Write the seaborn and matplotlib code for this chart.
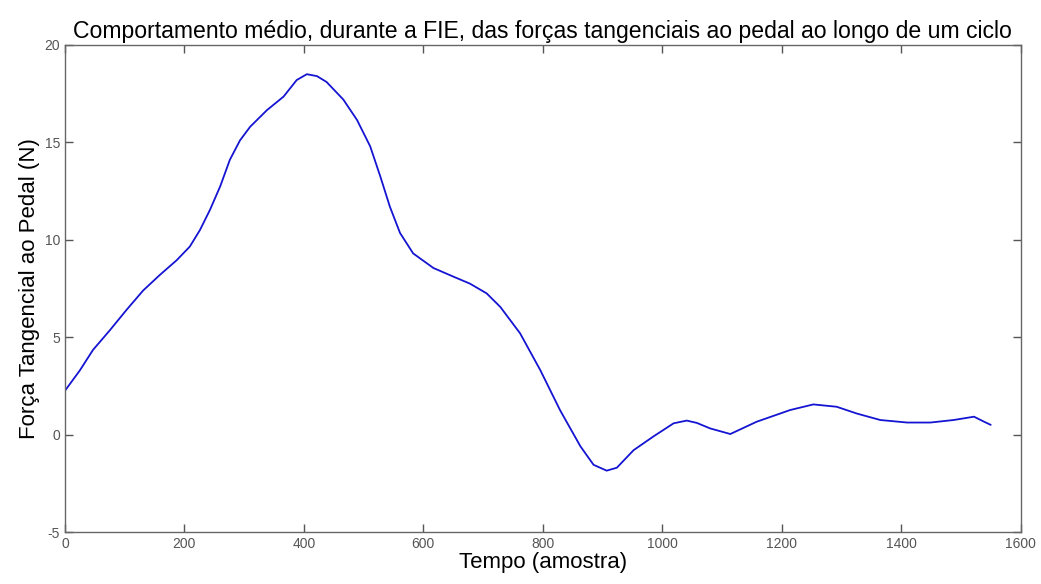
import numpy as np
import pandas as pd
import matplotlib
matplotlib.use("Agg")
import matplotlib.pyplot as plt
import seaborn as sns

# values
amostra = [0, 25, 47, 75, 103, 131, 159, 187, 209, 226, 243, 260, 276, 293,
           310, 338, 366, 388, 405, 422, 438, 466, 489, 511, 528, 544, 561,
           583, 617, 651, 678, 706, 729, 762, 796, 829, 863, 885, 907, 924,
           952, 985, 1019, 1041, 1058, 1080, 1114, 1158, 1214, 1253, 1292,
           1326, 1365, 1410, 1449, 1488, 1522, 1539, 1550]
forca = [2.25, 3.3, 4.35, 5.35, 6.4, 7.4, 8.2, 8.95, 9.65, 10.5, 11.55,
         12.75, 14.1, 15.1, 15.8, 16.65, 17.35, 18.2, 18.5, 18.4, 18.1,
         17.2, 16.15, 14.8, 13.25, 11.7, 10.35, 9.3, 8.55, 8.1, 7.75, 7.25,
         6.55, 5.2, 3.3, 1.25, -0.6, -1.55, -1.85, -1.7, -0.8, -0.1, 0.58,
         0.72, 0.6, 0.32, 0.03, 0.66, 1.26, 1.55, 1.43, 1.08, 0.75, 0.62,
         0.62, 0.75, 0.92, 0.66, 0.5]
xticks = [0, 200, 400, 600, 800, 1000, 1200, 1400, 1600]
yticks = [-5, 0, 5, 10, 15, 20]

df = pd.DataFrame({"amostra": amostra, "forca": forca})

sns.set_style("white")
plt.rcParams["font.family"] = ["Liberation Sans", "DejaVu Sans"]
plt.rcParams["axes.unicode_minus"] = False

fig = plt.figure(figsize=(10.41, 5.84), dpi=100)
ax = fig.add_axes([0.0624, 0.089, 0.918, 0.834])

sns.lineplot(data=df, x="amostra", y="forca", ax=ax, color="#1414d2",
             linewidth=1.3)

ax.set_xlim(0, 1600)
ax.set_ylim(-5, 20)
ax.set_xticks(xticks)
ax.set_yticks(yticks)
ax.tick_params(direction="in", length=6, width=1, color="#555555",
               labelcolor="#555555", labelsize=10, top=True, right=True,
               bottom=True, left=True)
for s in ax.spines.values():
    s.set_visible(True)
    s.set_color("#666666")
    s.set_linewidth(1)

ax.set_title("Comportamento médio, durante a FIE, das forças tangenciais ao pedal ao longo de um ciclo",
             fontsize=16.6, pad=5, color="black")
ax.set_xlabel("Tempo (amostra)", fontsize=16, labelpad=1, color="black")
ax.set_ylabel("Força Tangencial ao Pedal (N)", fontsize=16, labelpad=3,
              color="black")

fig.savefig("out.png", dpi=100, facecolor="white")
